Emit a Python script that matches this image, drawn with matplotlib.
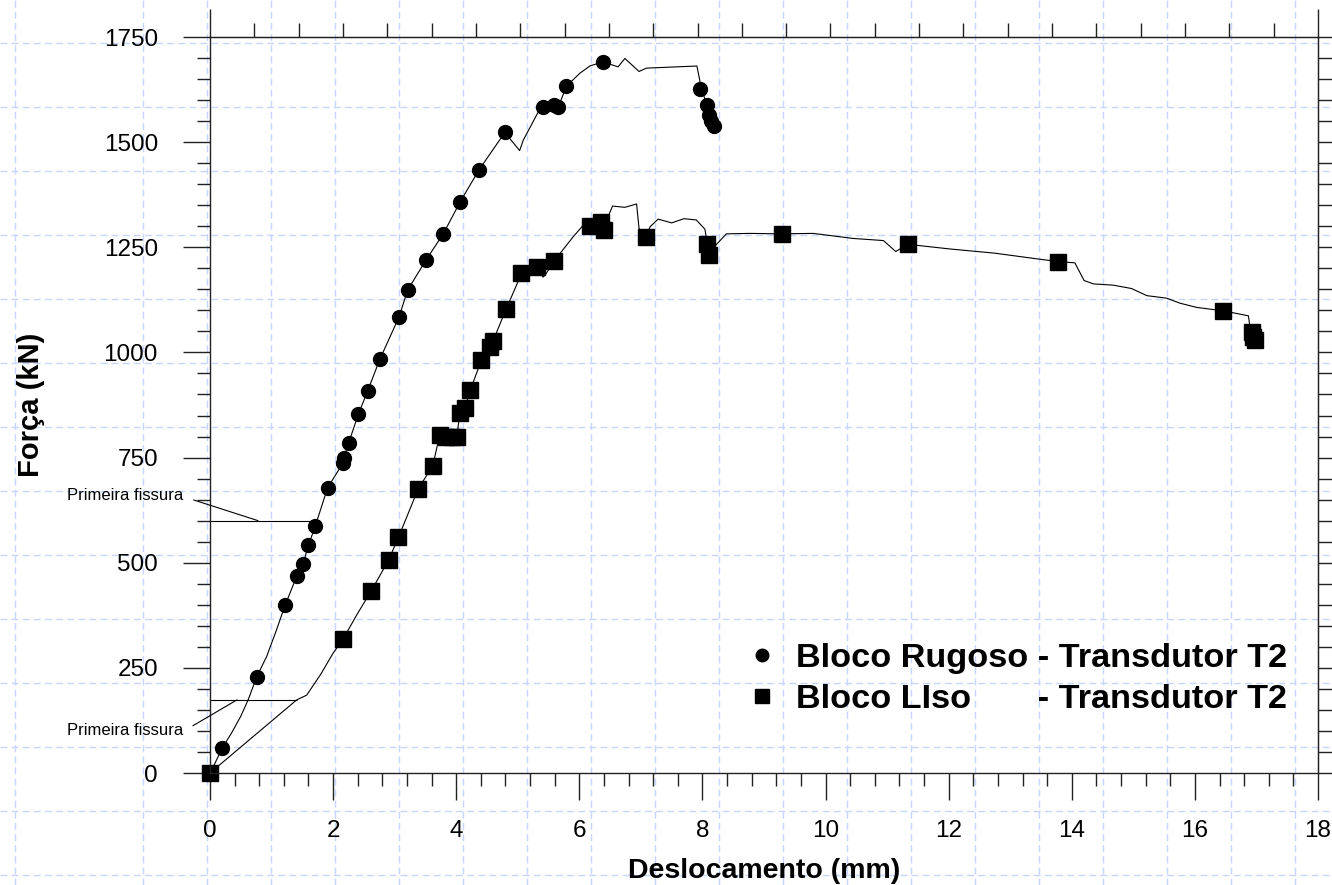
import numpy as np
import matplotlib
matplotlib.use("Agg")
import matplotlib.pyplot as plt
from matplotlib.lines import Line2D

plt.rcParams["font.family"] = ["Liberation Sans", "DejaVu Sans"]

# Bloco Rugoso - curva (deslocamento mm, força kN)
rug_x = [0, 0.08, 0.20, 0.35, 0.50, 0.62, 0.76, 0.92, 1.08, 1.22, 1.41, 1.51, 1.60, 1.71,
         1.91, 2.16, 2.17, 2.25, 2.41, 2.56, 2.76, 3.07, 3.21, 3.51, 3.79, 4.06, 4.37, 4.79,
         5.03, 5.09, 5.33, 5.41, 5.59, 5.66, 5.79, 6.01, 6.17, 6.38, 6.63, 6.74, 6.97, 7.09,
         7.91, 7.98, 8.07, 8.18]
rug_f = [0, 23, 60, 95, 135, 174, 229, 277, 340, 399, 468, 496, 542, 587,
         678, 737, 748, 784, 853, 908, 984, 1084, 1148, 1220, 1282, 1357, 1434, 1523,
         1480, 1505, 1571, 1584, 1588, 1584, 1633, 1664, 1681, 1691, 1679, 1699, 1668, 1676,
         1681, 1630, 1588, 1538]
# Bloco Rugoso - pontos marcados
rug_mx = [0, 0.20, 0.76, 1.22, 1.41, 1.51, 1.60, 1.71, 1.91, 2.16, 2.17, 2.25, 2.41, 2.56,
          2.76, 3.07, 3.21, 3.51, 3.79, 4.06, 4.37, 4.79, 5.41, 5.59, 5.66, 5.79, 6.38,
          7.96, 8.07, 8.10, 8.14, 8.18]
rug_mf = [0, 60, 229, 399, 468, 496, 542, 587, 678, 737, 748, 784, 853, 908,
          984, 1084, 1148, 1220, 1282, 1357, 1434, 1523, 1584, 1588, 1584, 1633, 1691,
          1626, 1588, 1565, 1550, 1538]

# Bloco Liso - curva
liso_x = [0, 1.41, 1.57, 1.80, 2.00, 2.16, 2.40, 2.62, 2.90, 3.06, 3.20, 3.38, 3.62, 3.73,
          3.84, 3.93, 4.01, 4.06, 4.14, 4.23, 4.41, 4.55, 4.60, 4.81, 4.95, 5.06, 5.31, 5.41,
          5.45, 5.59, 5.69, 5.90, 6.09, 6.40, 6.54, 6.74, 6.93, 6.97, 7.08, 7.15, 7.28, 7.50,
          7.70, 7.90, 8.04, 8.10, 8.19, 8.39, 8.77, 9.29, 9.80, 10.45, 10.94, 11.14, 11.34,
          12.02, 12.75, 13.46, 13.78, 14.05, 14.20, 14.35, 14.67, 14.97, 15.22, 15.54, 15.76,
          16.03, 16.46, 16.87, 16.89, 16.92, 16.97]
liso_f = [0, 174, 185, 235, 285, 318, 380, 433, 506, 560, 610, 675, 731, 803,
          800, 798, 800, 857, 867, 911, 982, 1014, 1028, 1103, 1150, 1188, 1202, 1179,
          1185, 1218, 1236, 1275, 1307, 1300, 1348, 1345, 1353, 1295, 1274, 1299, 1317, 1308,
          1318, 1315, 1293, 1240, 1251, 1282, 1283, 1282, 1283, 1271, 1266, 1240, 1257,
          1246, 1236, 1222, 1216, 1213, 1171, 1163, 1160, 1152, 1135, 1129, 1117,
          1107, 1099, 1087, 1065, 1049, 1030]
# Bloco Liso - pontos marcados
liso_mx = [0, 2.16, 2.62, 2.90, 3.06, 3.38, 3.62, 3.73, 3.84, 3.93, 4.01, 4.06, 4.14, 4.23,
           4.41, 4.55, 4.60, 4.81, 5.06, 5.31, 5.59, 6.18, 6.36, 6.40, 7.08, 8.07, 8.10,
           9.29, 11.34, 13.78, 16.46, 16.92, 16.95, 16.97]
liso_mf = [0, 318, 433, 506, 560, 675, 731, 803, 800, 798, 800, 857, 867, 911,
           982, 1014, 1028, 1103, 1188, 1202, 1218, 1300, 1310, 1290, 1274, 1259, 1232,
           1282, 1257, 1216, 1099, 1049, 1037, 1030]

# primeira fissura: nível de força e deslocamento até a curva
fissura_f = [600, 174]
fissura_xmax = [1.71, 1.41]
fissura_ponto = [(0.78, 600), (0.44, 174)]
fissura_texto = [(-0.44, 661), (-0.44, 102)]

labels = ["Bloco Rugoso - Transdutor T2", "Bloco LIso       - Transdutor T2"]

W, H = 1332, 885
fig = plt.figure(figsize=(W / 100, H / 100), dpi=100)

# grade tracejada de fundo (folha quadriculada)
bg = fig.add_axes([0, 0, 1, 1], zorder=0)
bg.set_xlim(0, W)
bg.set_ylim(H, 0)
bg.set_xticks([15] + list(range(143, W, 64)))
bg.set_yticks(list(range(43, H, 64)))
bg.grid(True, color="#c8d6ff", linestyle=(0, (5, 3)), linewidth=1.0)
bg.tick_params(length=0, labelbottom=False, labelleft=False)
for s in bg.spines.values():
    s.set_visible(False)

ax = fig.add_axes([210 / W, 1 - 773 / H, 1108 / W, 736 / H], zorder=1)
ax.set_facecolor("none")

ax.plot(rug_x, rug_f, color="black", lw=0.8)
ax.plot(liso_x, liso_f, color="black", lw=0.8)
ax.plot(rug_mx, rug_mf, "o", color="black", ms=10, linestyle="none", clip_on=False)
ax.plot(liso_mx, liso_mf, "s", color="black", ms=11, linestyle="none", clip_on=False)

for f, xm, p, t in zip(fissura_f, fissura_xmax, fissura_ponto, fissura_texto):
    ax.hlines(f, 0, xm, color="black", lw=0.8)
    ax.annotate("Primeira fissura", xy=p, xytext=t, ha="right", va="center",
                fontsize=12, annotation_clip=False,
                arrowprops=dict(arrowstyle="-", color="black", lw=0.8,
                                shrinkA=6, shrinkB=0, relpos=(1, 0.4)))

ax.set_xlim(0, 18)
ax.set_ylim(0, 1750)
ax.set_xticks(np.arange(0, 18.1, 2))
ax.set_xticks(np.arange(0, 18.01, 0.4), minor=True)
ax.set_yticks(np.arange(0, 1751, 250))
ax.set_yticks(np.arange(0, 1751, 50), minor=True)

tick_col = "#222222"
ax.tick_params(which="major", direction="out", length=19.5, width=1.0, color=tick_col,
               labelsize=17.5, top=False, right=False)
ax.tick_params(axis="x", which="major", pad=14)
ax.tick_params(axis="y", which="major", pad=18)
ax.tick_params(which="minor", direction="out", length=9.5, width=1.0, color=tick_col,
               top=False, right=False)
for s in ax.spines.values():
    s.set_color(tick_col)
    s.set_linewidth(1.0)

top = ax.secondary_xaxis("top")
top.set_xticks([0, 18])
top.set_xticks(np.arange(0, 18.01, 0.72), minor=True)
top.tick_params(which="major", direction="out", length=20, width=1.0, color=tick_col,
                labeltop=False)
top.tick_params(which="minor", direction="out", length=10, width=1.0, color=tick_col)
top.spines["top"].set_color(tick_col)

right = ax.secondary_yaxis("right")
right.set_yticks(np.arange(0, 1751, 50))
right.tick_params(direction="out", length=10, width=1.0, color=tick_col, labelright=False)
right.spines["right"].set_color(tick_col)

ax.set_xlabel("Deslocamento (mm)", fontsize=20.5, fontweight="bold", labelpad=12)
ax.set_ylabel("Força (kN)", fontsize=21, fontweight="bold", labelpad=42)

handles = [Line2D([], [], marker="o", color="black", ls="none", ms=9),
           Line2D([], [], marker="s", color="black", ls="none", ms=9.5)]
ax.legend(handles, labels, loc="upper left", frameon=False,
          bbox_to_anchor=(745 / W, 1 - 643 / H), bbox_transform=fig.transFigure,
          borderpad=0, borderaxespad=0, handlelength=1.0, handletextpad=0.49,
          labelspacing=0.30, prop=dict(size=24.7, weight="bold"))

fig.savefig("out.png", dpi=100)
